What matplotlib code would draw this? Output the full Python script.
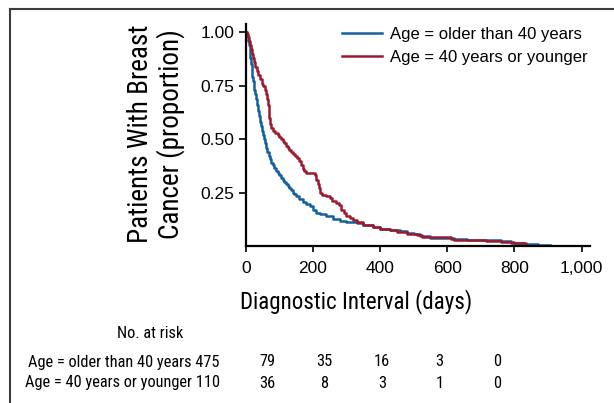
import numpy as np
import matplotlib.pyplot as plt

# Kaplan-Meier style step data
older_days = [0, 3, 6, 9, 12, 14, 16, 18, 20, 22, 24, 26, 28, 30, 33, 36, 39, 42, 45,
              48, 51, 54, 57, 60, 64, 68, 72, 76, 80, 85, 90, 95, 100, 105, 110, 115,
              120, 125, 130, 135, 140, 145, 150, 160, 170, 180, 190, 200, 210, 220,
              240, 260, 280, 300, 330, 350, 380, 400, 430, 460, 480, 500, 520, 550,
              620, 660, 720, 760, 790, 830, 870, 905]
older_surv = [1.0, 0.985, 0.96, 0.94, 0.91, 0.88, 0.85, 0.82, 0.79, 0.77, 0.75, 0.73,
              0.71, 0.69, 0.66, 0.63, 0.61, 0.58, 0.56, 0.54, 0.52, 0.50, 0.48, 0.46,
              0.44, 0.42, 0.405, 0.39, 0.38, 0.365, 0.35, 0.34, 0.33, 0.32, 0.31, 0.30,
              0.29, 0.28, 0.27, 0.26, 0.25, 0.242, 0.235, 0.22, 0.205, 0.195, 0.185,
              0.17, 0.155, 0.148, 0.14, 0.128, 0.118, 0.112, 0.108, 0.098, 0.09, 0.08,
              0.075, 0.07, 0.06, 0.055, 0.048, 0.038, 0.033, 0.03, 0.028, 0.022, 0.016,
              0.01, 0.006, 0.003]

young_days = [0, 4, 8, 11, 14, 17, 20, 23, 26, 29, 33, 38, 44, 48, 52, 56, 60, 64, 66,
              68, 70, 72, 75, 80, 88, 95, 100, 105, 110, 115, 120, 125, 130, 135, 140,
              146, 152, 160, 165, 170, 175, 180, 205, 210, 214, 218, 222, 228, 240,
              250, 258, 270, 278, 285, 292, 300, 310, 318, 330, 350, 380, 400, 430,
              450, 480, 510, 525, 610, 620, 715, 760, 800, 834]
young_surv = [1.0, 0.99, 0.98, 0.96, 0.94, 0.92, 0.90, 0.88, 0.86, 0.84, 0.82, 0.80,
              0.78, 0.76, 0.75, 0.73, 0.71, 0.69, 0.66, 0.63, 0.60, 0.57, 0.55, 0.54,
              0.53, 0.52, 0.51, 0.50, 0.49, 0.48, 0.47, 0.46, 0.45, 0.44, 0.43, 0.42,
              0.41, 0.40, 0.38, 0.36, 0.35, 0.34, 0.33, 0.31, 0.29, 0.27, 0.25, 0.24,
              0.235, 0.225, 0.21, 0.20, 0.19, 0.17, 0.155, 0.14, 0.13, 0.12, 0.11, 0.10,
              0.09, 0.08, 0.075, 0.065, 0.058, 0.05, 0.043, 0.035, 0.026, 0.025, 0.018,
              0.013, 0.009]

labels = ["Age = older than 40 years", "Age = 40 years or younger"]
colors = ["#14609f", "#9c1a2e"]
at_risk_older = [475, 79, 35, 16, 3, 0]
at_risk_young = [110, 36, 8, 3, 1, 0]

narrow = ["Roboto Condensed", "Liberation Sans", "DejaVu Sans"]
plain = ["Liberation Sans", "DejaVu Sans"]

W, H = 614, 403
fig = plt.figure(figsize=(W / 100, H / 100), dpi=100)
ax = fig.add_axes([245.7 / W, 1 - 246 / H, (590 - 245.7) / W, (246 - 24.3) / H])

ax.step(older_days, older_surv, where="post", color=colors[0], lw=1.8, label=labels[0])
ax.step(young_days, young_surv, where="post", color=colors[1], lw=1.8, label=labels[1])

ax.set_xlim(0, 1025)
ax.set_ylim(0, 1.0375)
ax.set_xticks([0, 200, 400, 600, 800, 1000])
ax.set_xticklabels(["0", "200", "400", "600", "800", "1,000"], family=plain, fontsize=12.5)
ax.set_yticks([0.25, 0.5, 0.75, 1.0])
ax.set_yticklabels(["0.25", "0.50", "0.75", "1.00"], family=plain, fontsize=12.5)
ax.tick_params(axis="x", length=4, width=1.2, pad=6.5)
ax.tick_params(axis="y", length=5, width=1.2, pad=3)
for s in ["top", "right"]:
    ax.spines[s].set_visible(False)
for s in ["left", "bottom"]:
    ax.spines[s].set_linewidth(1.6)

ax.legend(loc="upper left", bbox_to_anchor=(342 / W, 1 - 27 / H), bbox_transform=fig.transFigure,
          frameon=False, borderpad=0, borderaxespad=0, handlelength=2.4, handletextpad=0.5,
          labelspacing=0.5, prop={"family": plain, "size": 12})

fig.text(156 / W, 1 - 134 / H, "Patients With Breast\nCancer (proportion)", rotation=90,
         ha="center", va="center", family=narrow, fontsize=19.5, linespacing=1.12)
fig.text(356 / W, 1 - 302 / H, "Diagnostic Interval (days)", ha="center", va="center",
         family=narrow, fontsize=16.6)

# number at risk table
tsize = 11.8
fig.text(150 / W, 1 - 333 / H, "No. at risk", ha="center", va="center", family=narrow, fontsize=tsize)
for row, (lab, counts) in enumerate(zip(labels, [at_risk_older, at_risk_young])):
    y = 1 - (362 + 21 * row) / H
    fig.text(220 / W, y, f"{lab} {counts[0]}", ha="right", va="center", family=narrow, fontsize=tsize)
    for i, c in enumerate(counts[1:]):
        fig.text((267 + 57.5 * i) / W, y, str(c), ha="center", va="center", family=narrow, fontsize=tsize)

# outer frame (only top and left edges visible)
fig.add_artist(plt.Line2D([10 / W, 10 / W], [0, 1 - 9 / H], transform=fig.transFigure,
                          color="#3c3c3c", lw=1.5))
fig.add_artist(plt.Line2D([10 / W, 1], [1 - 9 / H, 1 - 9 / H], transform=fig.transFigure,
                          color="#3c3c3c", lw=1.5))

fig.savefig("out.png", dpi=100)
